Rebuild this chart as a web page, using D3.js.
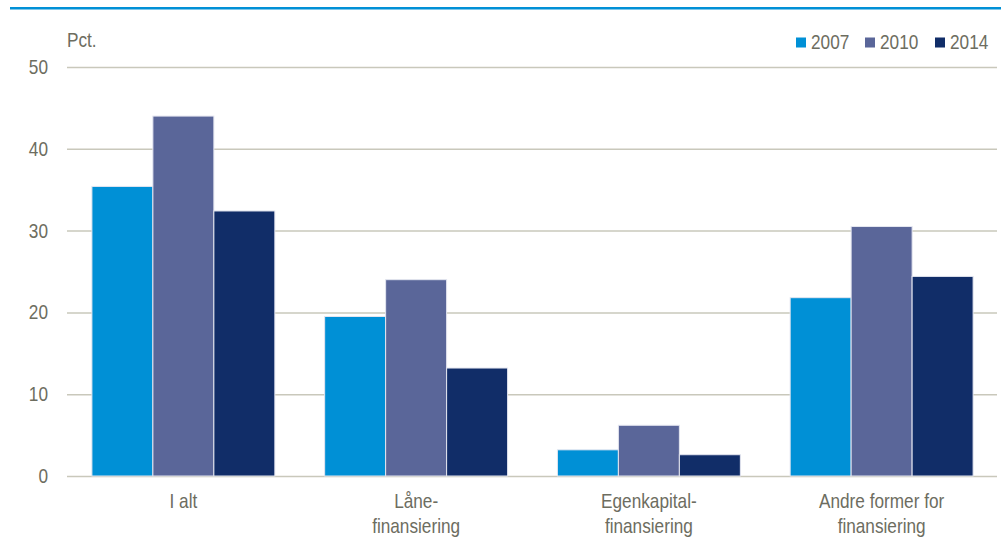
<!DOCTYPE html>
<html>
<head>
<meta charset="utf-8">
<script src="https://cdn.jsdelivr.net/npm/d3@7"></script>
<style>
  html, body { margin: 0; padding: 0; background: #fff; }
  svg { display: block; }
  text { font-family: "Liberation Sans", Arial, sans-serif; fill: #6d6d5f; }
</style>
</head>
<body>
<svg id="chart" width="1001" height="542"></svg>
<script>
// Financing categories (two-line labels split on "\n")
const categories = ["I alt", "Låne-\nfinansiering", "Egenkapital-\nfinansiering", "Andre former for\nfinansiering"];
const years = ["2007", "2010", "2014"];
const values2007 = [35.4, 19.5, 3.2, 21.8];
const values2010 = [44.0, 24.0, 6.2, 30.5];
const values2014 = [32.4, 13.2, 2.6, 24.4];
const yTicks = [0, 10, 20, 30, 40, 50];
const colors = ["#0090d6", "#5a6699", "#112d68"];

const seriesValues = [values2007, values2010, values2014];
const FS = 21;        // font size
const SX = 0.82;      // horizontal condensing of the text face

const svg = d3.select("#chart");
const margin = { left: 67, top: 67 };
const plotW = 998 - 67, plotH = 476 - 67;

// condensed text helper
function label(parent, x, y, str, anchor) {
  return parent.append("text")
    .attr("transform", `translate(${x},${y}) scale(${SX},1)`)
    .attr("text-anchor", anchor || "start")
    .attr("font-size", FS)
    .text(str);
}

// top rule
svg.append("rect").attr("x", 10).attr("y", 7).attr("width", 991).attr("height", 2.5).attr("fill", "#0090d6");

const g = svg.append("g").attr("transform", `translate(${margin.left},${margin.top})`);

const x0 = d3.scaleBand().domain(categories).range([0, plotW]).paddingInner(0.214).paddingOuter(0.107);
const x1 = d3.scaleBand().domain(years).range([0, x0.bandwidth()]);
const y = d3.scaleLinear().domain([0, 50]).range([plotH, 0]);

// gridlines
const yAxis = d3.axisLeft(y).tickValues(yTicks).tickSize(-(plotW - 1)).tickFormat("");
const ya = g.append("g").call(yAxis);
ya.select(".domain").remove();
ya.selectAll(".tick line").attr("stroke", "#c9c8bb").attr("stroke-width", 1.5);

// y tick labels
yTicks.forEach(t => {
  label(g, -19, y(t) + 7, d3.format("d")(t), "end");
});

// unit label
label(svg, 67, 47, "Pct.");

// bars
const groups = g.selectAll(".grp").data(categories).join("g")
  .attr("class", "grp")
  .attr("transform", d => `translate(${x0(d)},0)`);

groups.selectAll("rect")
  .data((d, i) => years.map((yr, k) => ({ yr, k, v: seriesValues[k][i] })))
  .join("rect")
  .attr("x", d => x1(d.yr))
  .attr("y", d => y(d.v))
  .attr("width", x1.bandwidth())
  .attr("height", d => y(0) - y(d.v))
  .attr("fill", d => colors[d.k])
  .attr("stroke", "#e4e6f0")
  .attr("stroke-width", 1);

// category labels
const xl = g.append("g").attr("transform", `translate(0,${plotH})`);
categories.forEach(c => {
  const cx = x0(c) + x0.bandwidth() / 2;
  c.split("\n").forEach((ln, i) => {
    label(xl, cx, 32 + i * 25, ln, "middle");
  });
});

// legend
const legendX = [796, 865, 935];
years.forEach((yr, k) => {
  svg.append("rect").attr("x", legendX[k]).attr("y", 37.5).attr("width", 10).attr("height", 10).attr("fill", colors[k]);
  label(svg, legendX[k] + 15, 48.5, yr);
});
</script>
</body>
</html>
